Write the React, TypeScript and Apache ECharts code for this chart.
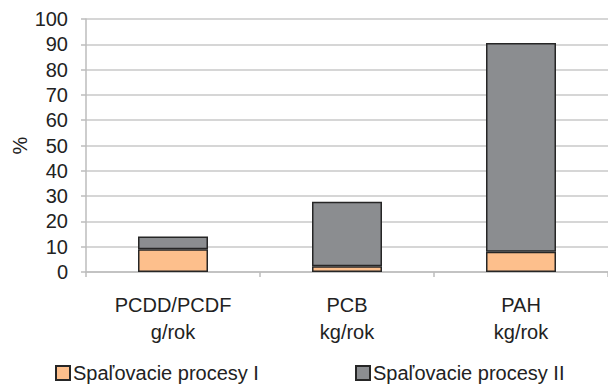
import React, { useEffect, useRef } from "react";
import * as echarts from "echarts";

const categories = ["PCDD/PCDF\ng/rok", "PCB\nkg/rok", "PAH\nkg/rok"];
const seriesNames = ["Spaľovacie procesy I", "Spaľovacie procesy II"];
const processI = [9, 2.3, 8];
const processII = [5, 25.5, 82.5];
const yTicksMax = 100;

export default function App() {
  const ref = useRef<HTMLDivElement>(null);
  useEffect(() => {
    const chart = echarts.init(ref.current!, null, { renderer: "svg" });
    const font = "Liberation Sans, Arial, sans-serif";
    const itemStyleBase = { borderColor: "#262626", borderWidth: 1.5 };
    const legendText = { fontFamily: font, fontSize: 20, color: "#222", padding: [0, 0, 0, -2] };
    chart.setOption({
      animation: false,
      backgroundColor: "#ffffff",
      grid: { left: 86, right: 0, top: 19, bottom: 113, outerBoundsMode: "none" },
      legend: [
        {
          data: [seriesNames[0]],
          left: 55,
          top: 363,
          padding: 0,
          itemWidth: 14,
          itemHeight: 14,
          icon: "rect",
          textStyle: legendText,
        },
        {
          data: [seriesNames[1]],
          left: 355,
          top: 363,
          padding: 0,
          itemWidth: 14,
          itemHeight: 14,
          icon: "rect",
          textStyle: legendText,
        },
      ],
      xAxis: {
        type: "category",
        data: categories,
        axisLine: { show: true, lineStyle: { color: "#bdbdbd", width: 1.5 } },
        axisTick: { show: true, length: 5, lineStyle: { color: "#bdbdbd", width: 1.5 } },
        axisLabel: {
          fontFamily: font,
          fontSize: 20,
          color: "#222",
          lineHeight: 27,
          margin: 19,
        },
      },
      yAxis: {
        type: "value",
        min: 0,
        max: yTicksMax,
        interval: 10,
        name: "%",
        nameLocation: "middle",
        nameGap: 56,
        nameMoveOverlap: false,
        nameRotate: 90,
        nameTextStyle: { fontFamily: font, fontSize: 20, color: "#222" },
        axisLine: { show: true, lineStyle: { color: "#bdbdbd", width: 1.5 } },
        axisTick: { show: true, length: 5, lineStyle: { color: "#bdbdbd", width: 1.5 } },
        axisLabel: { fontFamily: font, fontSize: 20, color: "#222", margin: 18 },
        splitLine: { show: true, lineStyle: { color: "#c8c8c8", width: 1.5 } },
      },
      series: [
        {
          name: seriesNames[0],
          type: "bar",
          stack: "total",
          data: processI,
          barWidth: 70,
          itemStyle: { ...itemStyleBase, color: "#fdbf8c" },
        },
        {
          name: seriesNames[1],
          type: "bar",
          stack: "total",
          data: processII,
          barWidth: 70,
          itemStyle: { ...itemStyleBase, color: "#8b8d90" },
        },
      ],
    });
    return () => chart.dispose();
  }, []);
  return <div ref={ref} style={{ width: 608, height: 385, position: "absolute", left: 0, top: 0 }} />;
}
